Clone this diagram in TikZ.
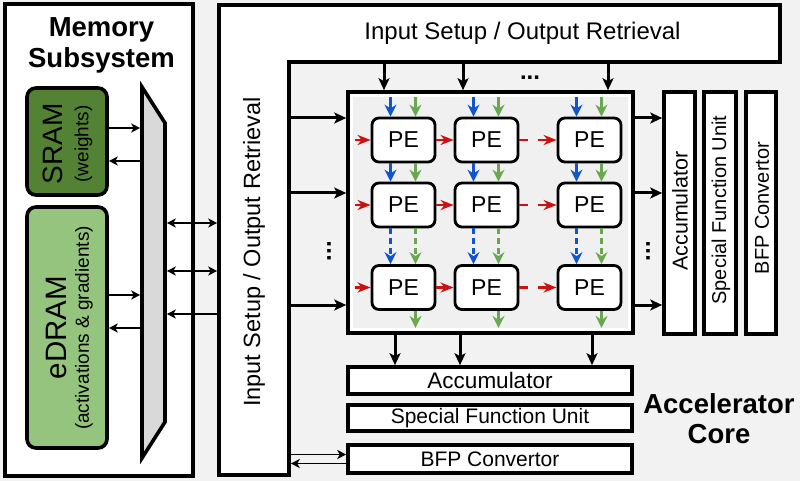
\documentclass[tikz,border=0pt]{standalone}
\usepackage{fontspec}
\setmainfont{Liberation Sans}
\usetikzlibrary{arrows.meta,calc}
\definecolor{bgc}{HTML}{F2F2F2}
\definecolor{arrc}{HTML}{F0F0F0}
\definecolor{sramc}{HTML}{548235}
\definecolor{edramc}{HTML}{94C47D}
\definecolor{muxc}{HTML}{D9D9D9}
\definecolor{redc}{HTML}{CC1111}
\definecolor{bluec}{HTML}{1155CC}
\definecolor{greenc}{HTML}{6AA84F}
\begin{document}
\begin{tikzpicture}[x=1pt,y=-1pt,
  box/.style={draw, line width=3.6pt, fill=white, inner sep=0pt},
  ghost/.style={inner sep=0pt, outer sep=0pt},
  pebox/.style={draw, line width=2.8pt, fill=white, rounded corners=7pt, minimum width=63pt, minimum height=44pt, inner sep=0pt, font=\fontsize{23}{26}\selectfont},
  blk/.style={line width=3pt, -{Stealth[length=12pt,width=11pt,inset=3pt]}},
  thinarr/.style={line width=1.8pt, -{Stealth[length=9pt,width=9pt,inset=2.5pt]}},
  thinboth/.style={line width=1.8pt, {Stealth[length=9pt,width=9pt,inset=2.5pt]}-{Stealth[length=9pt,width=9pt,inset=2.5pt]}},
  barr/.style={color=bluec, line width=2.2pt, -{Stealth[length=12pt,width=12pt,inset=4pt]}},
  garr/.style={color=greenc, line width=2.2pt, -{Stealth[length=12pt,width=12pt,inset=4pt]}},
  rarr/.style={color=redc, line width=2.2pt, -{Stealth[length=13pt,width=10pt,inset=4pt]}},
  rline/.style={color=redc, line width=2.8pt},
  dashline/.style={dash pattern=on 6pt off 4pt},
  vtext/.style={rotate=90, inner sep=0pt},
]
\fill[bgc] (0,0) rectangle (800,481);
\useasboundingbox (0,0) rectangle (800,481);

% ---------------- Memory subsystem ----------------
\node (mem) [box, minimum width=188pt, minimum height=472pt] at (99,240) {};
\node (memtitle) [align=center, font=\fontsize{27.5}{31}\selectfont\bfseries] at (101.5,45) {Memory\\Subsystem};
\node (sram) [box, fill=sramc, rounded corners=9pt, minimum width=80pt, minimum height=107pt] at (67,141.5) {};
\node (sramt) [vtext, font=\fontsize{28}{30}\selectfont] at (52.5,144) {SRAM};
\node (sramw) [vtext, font=\fontsize{19}{22}\selectfont] at (83.5,144) {(weights)};
\node (edram) [box, fill=edramc, rounded corners=9pt, minimum width=80pt, minimum height=241pt] at (67,327.5) {};
\node (edramt) [vtext, font=\fontsize{29.5}{32}\selectfont] at (56,327.5) {eDRAM};
\node (edramw) [vtext, font=\fontsize{19}{22}\selectfont] at (84,328) {(activations \& gradients)};

% ---------------- Accelerator L-shaped I/O block ----------------
\draw[line width=3.6pt, fill=white] (219,5) -- (780,5) -- (780,62) -- (289,62) -- (289,475) -- (219,475) -- cycle;
\node (lbar) [ghost, minimum width=73.6pt, minimum height=473.6pt] at (254,240) {};
\node (tbar) [ghost, minimum width=494.6pt, minimum height=60.6pt] at (534.5,33.5) {};
\node (toptext) [font=\fontsize{24}{26}\selectfont] at (522.5,33) {Input Setup / Output Retrieval};
\node (lefttext) [vtext, font=\fontsize{23.5}{26}\selectfont] at (254,252) {Input Setup / Output Retrieval};

% ---------------- Mux ----------------
\draw[line width=3.6pt, fill=muxc] (142,87) -- (165,123) -- (165,422) -- (142,458) -- cycle;
\node (mux) [ghost, minimum width=26.6pt, minimum height=371pt] at (153.5,272.5) {};

% memory arrows
\draw[thinarr] ($(sram.east)+(0,-13.5)$) -- ($(mux.west |- sram.east)+(0,-13.5)$);
\draw[thinarr] ($(mux.west |- sram.east)+(0,19.5)$) -- ($(sram.east)+(0,19.5)$);
\draw[thinarr] ($(edram.east)+(0,-32.5)$) -- ($(mux.west |- edram.east)+(0,-32.5)$);
\draw[thinarr] ($(mux.west |- edram.east)+(0,0.5)$) -- ($(edram.east)+(0,0.5)$);
\draw[thinboth] ($(mux.east)+(0,-49.5)$) -- ($(lbar.west |- mux.east)+(0,-49.5)$);
\draw[thinboth] ($(mux.east)+(0,-1.5)$) -- ($(lbar.west |- mux.east)+(0,-1.5)$);
\draw[thinarr] ($(lbar.west |- mux.east)+(0,41.5)$) -- ($(mux.east)+(0,41.5)$);

% ---------------- PE array ----------------
\node (array) [box, minimum width=285pt, minimum height=241pt] at (490.5,212.5) {};
\fill[arrc] ($(array.north west)+(6.5,6.5)$) rectangle ($(array.south east)+(-6.5,-6.5)$);
\foreach \r/\y in {1/140,2/205,3/287.5}
  \foreach \c/\x in {1/403.5,2/486.5,3/589.5}
    \node (pe\r\c) [pebox] at (\x,\y) {PE};

\foreach \c in {1,2,3} {
  \draw[barr] ($(pe1\c.north)+(-13,-20)$) -- ($(pe1\c.north)+(-13,0)$);
  \draw[garr] ($(pe1\c.north)+(12,-20)$) -- ($(pe1\c.north)+(12,0)$);
  \draw[barr] ($(pe1\c.south)+(-13,0)$) -- ($(pe2\c.north)+(-13,0)$);
  \draw[garr] ($(pe1\c.south)+(12,0)$) -- ($(pe2\c.north)+(12,0)$);
  \draw[barr,dashline] ($(pe2\c.south)+(-13,0)$) -- ($(pe3\c.north)+(-13,0)$);
  \draw[garr,dashline] ($(pe2\c.south)+(12,0)$) -- ($(pe3\c.north)+(12,0)$);
  \draw[garr] ($(pe3\c.south)+(12,0)$) -- ($(pe3\c.south)+(12,17)$);
}
\foreach \r in {1,2,3} {
  \draw[rarr] ($(pe\r1.west)+(-16,0)$) -- (pe\r1.west);
  \draw[rarr] (pe\r1.east) -- (pe\r2.west);
  \draw[rline] (pe\r2.east) -- ($(pe\r2.east)+(9,0)$);
  \draw[rarr] ($(pe\r3.west)+(-19,0)$) -- (pe\r3.west);
}

% ---------------- Right vertical units ----------------
\node (accv) [box, minimum width=31pt, minimum height=242pt] at (679.5,213) {};
\node (accvt) [vtext, font=\fontsize{21.5}{24}\selectfont] at (680,211) {Accumulator};
\node (sfuv) [box, minimum width=32pt, minimum height=242pt] at (720,213) {};
\node (sfuvt) [vtext, font=\fontsize{20}{22}\selectfont] at (721,210) {Special Function Unit};
\node (bfpv) [box, minimum width=30pt, minimum height=242pt] at (761,213) {};
\node (bfpvt) [vtext, font=\fontsize{20}{22}\selectfont] at (762,208) {BFP Convertor};

% ---------------- Bottom units ----------------
\node (acch) [box, minimum width=284pt, minimum height=27pt, font=\fontsize{22.5}{24}\selectfont] at (490,380.5) {Accumulator};
\node (sfuh) [box, minimum width=284pt, minimum height=26pt, font=\fontsize{21}{24}\selectfont] at (490,418) {Special Function Unit};
\node (bfph) [box, minimum width=284pt, minimum height=28pt, font=\fontsize{21}{24}\selectfont] at (490,459) {BFP Convertor};

% ---------------- Black arrows ----------------
\foreach \dx [count=\i] in {-106.5,-27.5,117.5} {
  \coordinate (ta\i) at ($(array.north)+(\dx,0)$);
  \draw[blk] (ta\i |- tbar.south) -- (ta\i);
}
\foreach \dy [count=\i] in {-94.5,-19.5,92.5} {
  \coordinate (la\i) at ($(array.west)+(0,\dy)$);
  \draw[blk] (lbar.east |- la\i) -- (la\i);
  \draw[blk] (la\i -| array.east) -- (la\i -| accv.west);
}
\foreach \dx [count=\i] in {-95.5,-30.5,101.5} {
  \coordinate (ba\i) at ($(array.south)+(\dx,0)$);
  \draw[blk] (ba\i) -- (ba\i |- acch.north);
}
\draw[thinarr] ($(lbar.east |- bfph.west)+(0,-4.5)$) -- ($(bfph.west)+(0,-4.5)$);
\draw[thinarr] ($(bfph.west)+(0,4.5)$) -- ($(lbar.east |- bfph.west)+(0,4.5)$);

% dots
\node (dtop) [inner sep=0pt, font=\fontsize{24}{26}\selectfont\bfseries] at (530,78) {...};
\node (dleft) [vtext, font=\fontsize{24}{26}\selectfont\bfseries] at (329,251) {...};
\node (dright) [vtext, font=\fontsize{24}{26}\selectfont\bfseries] at (648,251) {...};

% title
\node (acctitle) [align=center, font=\fontsize{27.5}{30}\selectfont\bfseries] at (719,419) {Accelerator\\Core};
\end{tikzpicture}
\end{document}
